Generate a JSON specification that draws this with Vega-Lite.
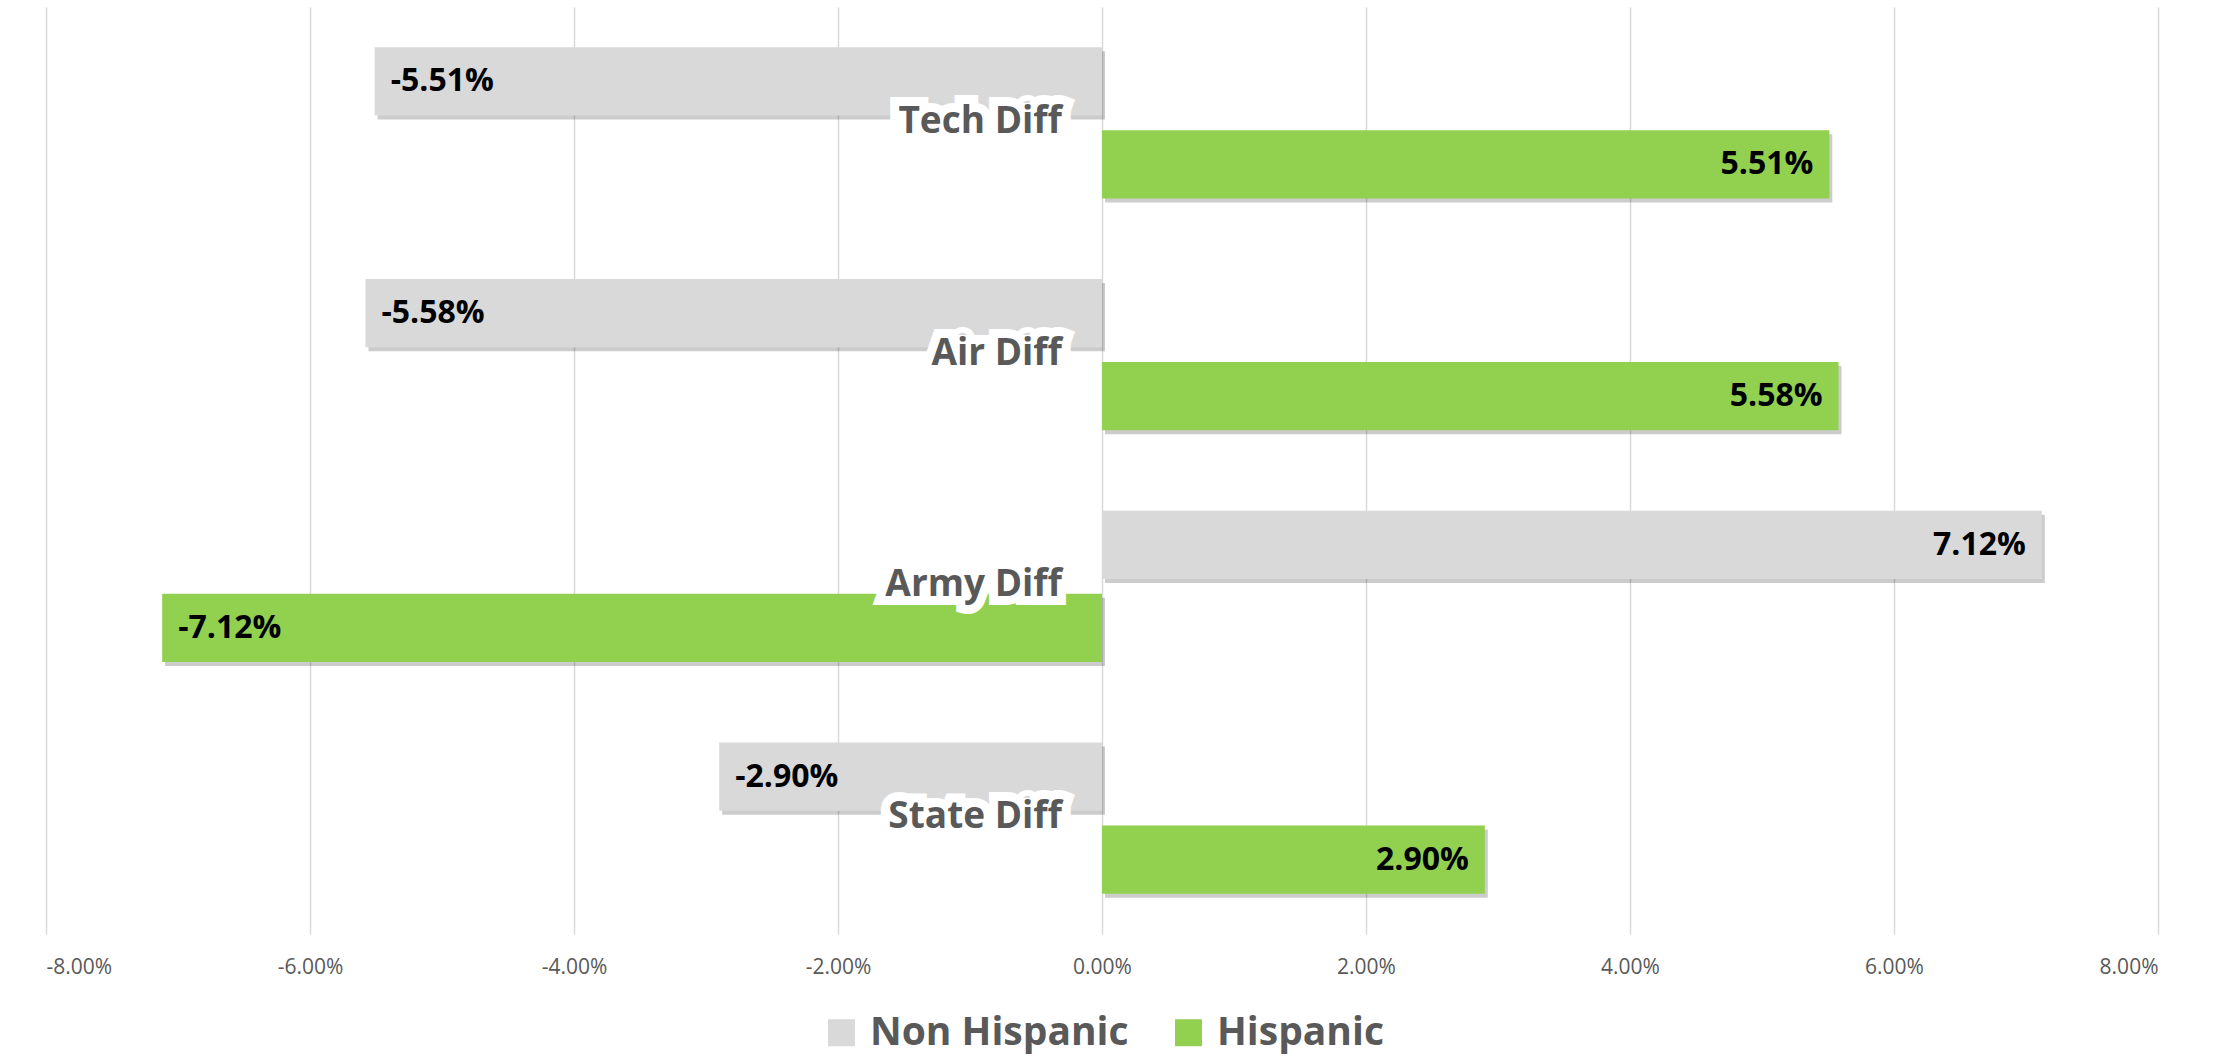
{
  "$schema": "https://vega.github.io/schema/vega-lite/v6.json",
  "width": 2112,
  "height": 927,
  "autosize": "none",
  "padding": {"left": 46, "top": 7, "right": 63, "bottom": 123},
  "background": "white",
  "data": {
    "values": [
      {"category": "Tech Diff", "series": "Non Hispanic", "value": -0.0551},
      {"category": "Tech Diff", "series": "Hispanic", "value": 0.0551},
      {"category": "Air Diff", "series": "Non Hispanic", "value": -0.0558},
      {"category": "Air Diff", "series": "Hispanic", "value": 0.0558},
      {"category": "Army Diff", "series": "Non Hispanic", "value": 0.0712},
      {"category": "Army Diff", "series": "Hispanic", "value": -0.0712},
      {"category": "State Diff", "series": "Non Hispanic", "value": -0.029},
      {"category": "State Diff", "series": "Hispanic", "value": 0.029}
    ]
  },
  "encoding": {
    "y": {
      "field": "category",
      "type": "nominal",
      "sort": ["Tech Diff", "Air Diff", "Army Diff", "State Diff"],
      "scale": {"paddingInner": 0.348, "paddingOuter": 0.174},
      "axis": null
    }
  },
  "resolve": {"scale": {"yOffset": "independent"}},
  "layer": [
    {
      "mark": {"type": "bar", "color": "#000000", "opacity": 0.2, "xOffset": 3},
      "encoding": {
        "x": {"field": "value", "type": "quantitative"},
        "yOffset": {"field": "series", "type": "nominal", "sort": ["Non Hispanic", "Hispanic"], "scale": {"paddingInner": 0.18, "paddingOuter": 0, "range": [4, 155.1]}}
      }
    },
    {
      "encoding": {
        "yOffset": {
          "field": "series",
          "type": "nominal",
          "sort": ["Non Hispanic", "Hispanic"],
          "scale": {"paddingInner": 0.18, "paddingOuter": 0}
        }
      },
      "layer": [
        {
          "mark": {"type": "bar"},
          "encoding": {
            "x": {
              "field": "value",
              "type": "quantitative",
              "scale": {"domain": [-0.08, 0.08], "nice": false, "zero": true},
              "axis": {
                "format": ".2%",
                "values": [-0.08, -0.06, -0.04, -0.02, 0, 0.02, 0.04, 0.06, 0.08],
                "grid": true,
                "gridColor": "#D9D9D9",
                "gridWidth": 1.5,
                "domain": false,
                "ticks": false,
                "labelFont": "Open Sans",
                "labelFontSize": 21,
                "labelColor": "#595959",
                "labelPadding": 22,
                "title": null
              }
            },
            "color": {
              "field": "series",
              "type": "nominal",
              "sort": ["Non Hispanic", "Hispanic"],
              "scale": {"domain": ["Non Hispanic", "Hispanic"], "range": ["#D9D9D9", "#92D050"]},
              "legend": {
                "orient": "none",
                "legendX": 776,
                "legendY": 1006,
                "direction": "horizontal",
                "title": null,
                "symbolType": "square",
                "symbolSize": 729,
                "symbolStrokeWidth": 0,
                "labelFont": "Open Sans",
                "labelFontSize": 39,
                "labelFontWeight": "bold",
                "labelColor": "#595959",
                "labelOffset": 9,
                "columnPadding": 40,
                "padding": 0,
                "labelLimit": 500
              }
            }
          }
        },
        {
          "transform": [{"filter": "datum.value < 0"}],
          "mark": {"type": "text", "align": "left", "baseline": "middle", "dx": 16, "font": "Open Sans", "fontSize": 32, "fontWeight": "bold", "color": "#000000"},
          "encoding": {
            "x": {"field": "value", "type": "quantitative"},
            "text": {"field": "value", "type": "quantitative", "format": ".2%"}
          }
        },
        {
          "transform": [{"filter": "datum.value >= 0"}],
          "mark": {"type": "text", "align": "right", "baseline": "middle", "dx": -16, "font": "Open Sans", "fontSize": 32, "fontWeight": "bold", "color": "#000000"},
          "encoding": {
            "x": {"field": "value", "type": "quantitative"},
            "text": {"field": "value", "type": "quantitative", "format": ".2%"}
          }
        }
      ]
    },
    {
      "transform": [{"filter": "datum.series == 'Hispanic'"}],
      "mark": {"type": "text", "align": "right", "baseline": "alphabetic", "dx": -40, "dy": 10, "font": "Open Sans", "fontSize": 37, "fontWeight": "bold", "fill": "white", "stroke": "white", "strokeWidth": 18, "strokeJoin": "miter"},
      "encoding": {
        "x": {"datum": 0, "type": "quantitative"},
        "text": {"field": "category", "type": "nominal"}
      }
    },
    {
      "transform": [{"filter": "datum.series == 'Hispanic'"}],
      "mark": {"type": "text", "align": "right", "baseline": "alphabetic", "dx": -40, "dy": 10, "font": "Open Sans", "fontSize": 37, "fontWeight": "bold", "color": "#595959"},
      "encoding": {
        "x": {"datum": 0, "type": "quantitative"},
        "text": {"field": "category", "type": "nominal"}
      }
    }
  ],
  "config": {
    "view": {"stroke": null},
    "locale": {"number": {"decimal": ".", "thousands": ",", "grouping": [3], "currency": ["$", ""], "minus": "-"}}
  }
}
